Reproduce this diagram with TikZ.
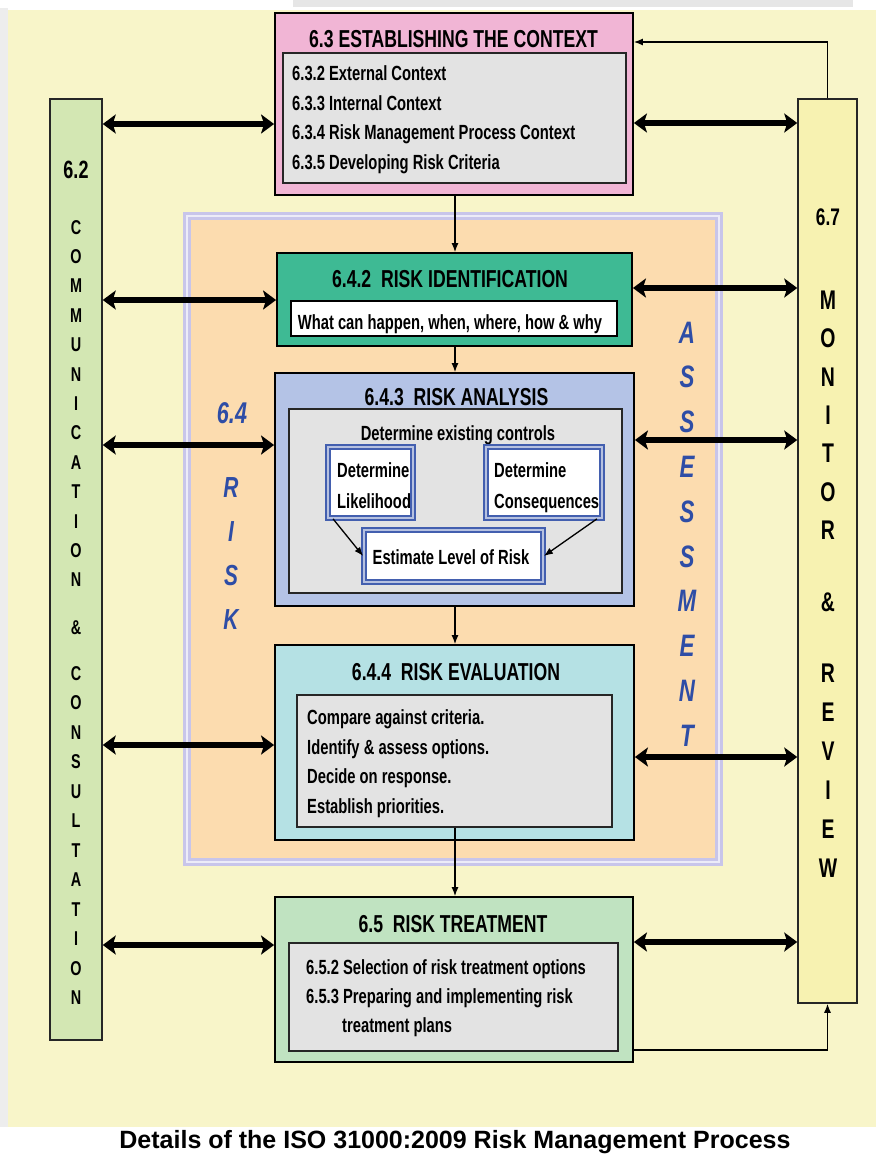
\documentclass[tikz,border=0pt]{standalone}
\usepackage{fontspec}
\usetikzlibrary{arrows.meta,calc}

\newfontfamily\narrowsf[FakeStretch=0.72]{Liberation Sans}
\newfontfamily\plainsf{Liberation Sans}

\definecolor{bgyellow}{HTML}{F8F5C9}
\definecolor{stripgray}{HTML}{E6E6E6}
\definecolor{ctxpink}{HTML}{F1B5D5}
\definecolor{commgreen}{HTML}{D3E7B3}
\definecolor{monyellow}{HTML}{F7F2B1}
\definecolor{identgreen}{HTML}{3EBA94}
\definecolor{anablue}{HTML}{B4C3E6}
\definecolor{evacyan}{HTML}{B5E1E4}
\definecolor{trtgreen}{HTML}{C0E3C1}
\definecolor{assorange}{HTML}{FCDCAF}
\definecolor{asslav}{HTML}{C8C5EA}
\definecolor{riskblue}{HTML}{2E4DA6}
\definecolor{ingray}{HTML}{E3E3E3}

\begin{document}
\begin{tikzpicture}[x=1pt,y=-1pt,line join=miter,
  box/.style={draw=black,line width=1.8pt,inner sep=0pt},
  barbox/.style={draw=black!85,line width=1.5pt,inner sep=0pt},
  inbox/.style={draw=black!85,line width=1.6pt,fill=ingray,inner sep=0pt},
  dblbox/.style={draw=riskblue!90,double=riskblue!35!white,double distance=2pt,line width=1.8pt,fill=white,inner sep=0pt},
  ttl/.style={font=\narrowsf\bfseries\fontsize{24.5}{24.5}\selectfont,inner sep=0pt,text height=17.5pt,text depth=0pt},
  txt/.style={font=\narrowsf\bfseries\fontsize{20.5}{20.5}\selectfont,inner sep=0pt,text height=14.7pt,text depth=0pt,anchor=west},
  commchar/.style={font=\narrowsf\bfseries\fontsize{20}{20}\selectfont,inner sep=0pt,text height=14.3pt,text depth=0pt},
  monchar/.style={font=\narrowsf\bfseries\fontsize{27}{27}\selectfont,inner sep=0pt,text height=19.3pt,text depth=0pt},
  riskchar/.style={font=\narrowsf\bfseries\itshape\fontsize{29}{29}\selectfont,text=riskblue,inner sep=0pt,text height=20.8pt,text depth=0pt},
  asschar/.style={font=\narrowsf\bfseries\itshape\fontsize{31}{31}\selectfont,text=riskblue,inner sep=0pt,text height=22.2pt,text depth=0pt},
  bigarr/.style={{Stealth[length=13pt,width=19pt,inset=3pt]}-{Stealth[length=13pt,width=19pt,inset=3pt]},line width=5.5pt},
  thinarr/.style={-{Latex[length=9pt,width=7pt]},line width=1.3pt}
]

% ===== 背景 =====
\useasboundingbox (0,0) rectangle (876,1154);
\fill[white] (0,0) rectangle (876,1154);
\fill[stripgray] (293,0) rectangle (853,7);
\fill[stripgray!70] (0,8) rectangle (8,1127);
\fill[bgyellow] (8,10) rectangle (876,1127);

% ===== 6.4 RISK ASSESSMENT 区域 =====
\fill[assorange] (187,216) rectangle (719,862);
\draw[asslav,line width=3pt,double=asslav!35!white,double distance=2pt] (187,216) rectangle (719,862);

\node[riskchar,font=\narrowsf\bfseries\itshape\fontsize{30}{30}\selectfont,text height=21.5pt] (rnum) at (232,413) {6.4};
\foreach \ch [count=\i from 0] in {R,I,S,K}
  \node[riskchar] (risk\i) at (231,{487+44*\i}) {\ch};
\foreach \ch [count=\i from 0] in {A,S,S,E,S,S,M,E,N,T}
  \node[asschar] (ass\i) at (687,{332+44.8*\i}) {\ch};

% ===== 两侧竖条 =====
\node[barbox,fill=commgreen,minimum width=52pt,minimum height=941pt] (comm) at (76,569.5) {};
\node[barbox,fill=monyellow,minimum width=59pt,minimum height=904pt] (mon) at (827.5,551) {};

\node[commchar,font=\narrowsf\bfseries\fontsize{25}{25}\selectfont,text height=17.9pt] (commnum) at (76,170) {6.2};
\foreach \ch [count=\i from 0] in {C,O,M,M,U,N,I,C,A,T,I,O,N}
  \node[commchar] (comA\i) at (76,{227+29.4*\i}) {\ch};
\node[commchar] (comamp) at (76,627) {\&};
\foreach \ch [count=\i from 0] in {C,O,N,S,U,L,T,A,T,I,O,N}
  \node[commchar] (comB\i) at (76,{673+29.5*\i}) {\ch};

\node[monchar,font=\narrowsf\bfseries\fontsize{24}{24}\selectfont,text height=17.2pt] (monnum) at (828,217) {6.7};
\foreach \ch [count=\i from 0] in {M,O,N,I,T,O,R}
  \node[monchar] (monA\i) at (828,{300+38.3*\i}) {\ch};
\node[monchar] (monamp) at (828,602) {\&};
\foreach \ch [count=\i from 0] in {R,E,V,I,E,W}
  \node[monchar] (monB\i) at (828,{673+39*\i}) {\ch};

% ===== 6.3 ESTABLISHING THE CONTEXT =====
\node[box,fill=ctxpink,minimum width=358pt,minimum height=182pt] (ctx) at (454,104) {};
\node[ttl] (ctxttl) at (453.5,38.5) {6.3 ESTABLISHING THE CONTEXT};
\node[inbox,minimum width=343pt,minimum height=130pt] (ctxin) at (454.5,118) {};
\foreach \t [count=\i from 0] in {6.3.2 External Context,6.3.3 Internal Context,
    6.3.4 Risk Management Process Context,6.3.5 Developing Risk Criteria}
  \node[txt] (ctxi\i) at (292,{73+29.7*\i}) {\t};

% ===== 6.4.2 RISK IDENTIFICATION =====
\node[box,fill=identgreen,minimum width=355pt,minimum height=93pt] (ident) at (454.5,299.5) {};
\node[ttl] (identttl) at (450,279) {6.4.2\ \ RISK IDENTIFICATION};
\node[box,line width=1.5pt,fill=white,minimum width=326pt,minimum height=35pt] (identin) at (454,318.5) {};
\node[txt,anchor=center] (identtxt) at (450,322) {What can happen, when, where, how \& why};

% ===== 6.4.3 RISK ANALYSIS =====
\node[box,fill=anablue,minimum width=359pt,minimum height=233pt] (ana) at (454.5,489.5) {};
\node[ttl] (anattl) at (456.5,397) {6.4.3\ \ RISK ANALYSIS};
\node[inbox,minimum width=333pt,minimum height=184pt] (anain) at (455.5,501) {};
\node[txt,anchor=center] (anactl) at (458,433) {Determine existing controls};
\node[dblbox,minimum width=85pt,minimum height=71pt] (lik) at (370.5,482.5) {};
\node[txt] (likA) at (337,470) {Determine};
\node[txt] (likB) at (337,501) {Likelihood};
\node[dblbox,minimum width=116pt,minimum height=71pt] (cons) at (544,482.5) {};
\node[txt] (consA) at (494,470) {Determine};
\node[txt] (consB) at (494,501) {Consequences};
\node[dblbox,minimum width=179pt,minimum height=52pt] (est) at (453.5,556) {};
\node[txt,anchor=center] (esttxt) at (451,557) {Estimate Level of Risk};
\draw[thinarr] ([xshift=6pt]lik.south west) -- (est.west);
\draw[thinarr] ([xshift=-6pt]cons.south east) -- (est.east);

% ===== 6.4.4 RISK EVALUATION =====
\node[box,fill=evacyan,minimum width=359pt,minimum height=195pt] (eva) at (454.5,742.5) {};
\node[ttl] (evattl) at (456,671.5) {6.4.4\ \ RISK EVALUATION};
\node[inbox,minimum width=315pt,minimum height=132pt] (evain) at (454.5,761) {};
\foreach \t [count=\i from 0] in {Compare against criteria.,Identify \& assess options.,
    Decide on response.,Establish priorities.}
  \node[txt] (evai\i) at (307,{717+29.7*\i}) {\t};

% ===== 6.5 RISK TREATMENT =====
\node[box,fill=trtgreen,minimum width=358pt,minimum height=165pt] (trt) at (454,979.5) {};
\node[ttl] (trtttl) at (453,924) {6.5\ \ RISK TREATMENT};
\node[inbox,minimum width=329pt,minimum height=108pt] (trtin) at (453.5,997) {};
\node[txt] (trtA) at (306,967) {6.5.2 Selection of risk treatment options};
\node[txt] (trtB) at (306,996) {6.5.3 Preparing and implementing risk};
\node[txt] (trtC) at (342,1025) {treatment plans};

% ===== 纵向流程箭头 =====
\draw[thinarr] (ctx.south -| 455,0) -- (ident.north -| 455,0);
\draw[thinarr] (ident.south -| 455,0) -- (ana.north -| 455,0);
\draw[thinarr] (ana.south -| 455,0) -- (eva.north -| 455,0);
\draw[thinarr] (evain.south -| 455,0) -- (trt.north -| 455,0);

% ===== 反馈箭头 =====
\draw[thinarr] (mon.north) |- (ctx.east |- 0,42);
\draw[thinarr] (trt.east |- 0,1050) -| (mon.south);

% ===== 沟通与监控双向箭头 =====
\draw[bigarr] (comm.east |- 0,124) -- (ctx.west |- 0,124);
\draw[bigarr] (comm.east |- 0,300) -- (ident.west |- 0,300);
\draw[bigarr] (comm.east |- 0,445) -- (ana.west |- 0,445);
\draw[bigarr] (comm.east |- 0,745) -- (eva.west |- 0,745);
\draw[bigarr] (comm.east |- 0,945) -- (trt.west |- 0,945);

\draw[bigarr] (ctx.east |- 0,123) -- (mon.west |- 0,123);
\draw[bigarr] (ident.east |- 0,288) -- (mon.west |- 0,288);
\draw[bigarr] (ana.east |- 0,440) -- (mon.west |- 0,440);
\draw[bigarr] (eva.east |- 0,757) -- (mon.west |- 0,757);
\draw[bigarr] (trt.east |- 0,942) -- (mon.west |- 0,942);

% ===== 标题 =====
\node[font=\plainsf\bfseries\fontsize{25}{25}\selectfont,inner sep=0pt] (caption) at (455,1142)
  {Details of the ISO 31000:2009 Risk Management Process};

\end{tikzpicture}
\end{document}
